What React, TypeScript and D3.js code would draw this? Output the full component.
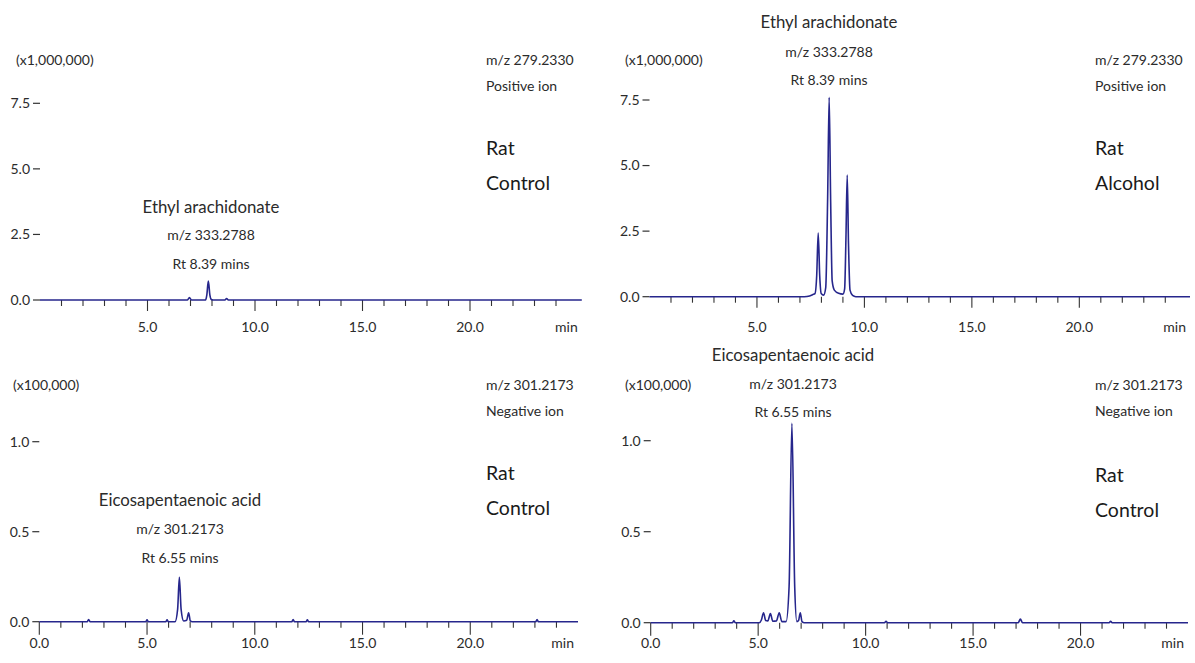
import React from "react";
import * as d3 from "d3";

// ---------- data (time in min, intensity in axis units) ----------
const tlTrace: [number, number][] = [
  [0, 0], [6.85, 0], [6.95, 0.09], [7.05, 0], [7.7, 0], [7.76, 0.2], [7.83, 0.72], [7.9, 0.2],
  [7.97, 0.02], [8.05, 0], [8.6, 0], [8.68, 0.06], [8.76, 0], [25.2, 0],
];
const trTrace: [number, number][] = [
  [0, 0], [7.2, 0], [7.45, 0.03], [7.6, 0.08], [7.7, 0.12], [7.78, 0.8], [7.85, 2.43], [7.92, 0.8],
  [7.99, 0.12], [8.1, 0.06], [8.2, 0.35], [8.29, 3.8], [8.36, 7.6], [8.43, 3.6], [8.5, 0.6],
  [8.6, 0.25], [8.8, 0.13], [9.0, 0.1], [9.08, 0.3], [9.14, 2.2], [9.2, 4.64], [9.26, 2.0],
  [9.33, 0.25], [9.45, 0.05], [9.6, 0], [25.15, 0],
];
const blTrace: [number, number][] = [
  [0, 0], [2.22, 0], [2.29, 0.012], [2.36, 0], [4.94, 0], [5.0, 0.01], [5.06, 0], [5.87, 0],
  [5.93, 0.01], [5.99, 0], [6.3, 0], [6.42, 0.07], [6.5, 0.247], [6.58, 0.07], [6.7, 0.004],
  [6.84, 0.008], [6.93, 0.05], [7.01, 0.004], [7.1, 0], [11.72, 0], [11.78, 0.012], [11.84, 0],
  [12.38, 0], [12.44, 0.01], [12.5, 0], [23.04, 0], [23.1, 0.012], [23.16, 0], [25.0, 0],
];
const brTrace: [number, number][] = [
  [0, 0], [3.8, 0], [3.87, 0.01], [3.94, 0], [5.05, 0], [5.15, 0.015], [5.25, 0.055], [5.35, 0.012],
  [5.45, 0.01], [5.57, 0.05], [5.68, 0.008], [5.85, 0.01], [5.98, 0.055], [6.1, 0.006],
  [6.3, 0.006], [6.44, 0.2], [6.57, 1.095], [6.7, 0.2], [6.8, 0.006], [6.88, 0.012],
  [6.96, 0.055], [7.04, 0.006], [7.15, 0], [10.88, 0], [10.95, 0.008], [11.02, 0], [17.1, 0],
  [17.2, 0.02], [17.3, 0], [21.33, 0], [21.4, 0.008], [21.47, 0], [25.0, 0],
];

const topYTicks = [0, 2.5, 5.0, 7.5];
const bottomYTicks = [0, 0.5, 1.0];
const topXLabels = [5, 10, 15, 20];
const bottomXLabels = [0, 5, 10, 15, 20];
const topMinor = d3.range(1, 25);
const bottomMinor = d3.range(0, 25);

const topScale = "(x1,000,000)";
const bottomScale = "(x100,000)";

// ---------- panel layout ----------
type Panel = {
  trace: [number, number][];
  x0: number; x1: number; xMax: number;
  y0: number; yTopPx: number; yTopVal: number;
  yTicks: number[]; xLabels: number[]; minor: number[];
  scaleText: string; scaleX: number; scaleY: number;
  mz: string; ion: string; infoX: number; infoY: number;
  rat: string; group: string; ratY: number;
  ann: string[]; annX: number; annY: number[];
  labelY: number; majorLen: number;
};

const FONT = "Lato, 'Open Sans', sans-serif";
const TEXT = "#2b2b2b";
const LINE = "#26268c";
const SMALL = 14;
const TITLE = 16.8;
const BIG = 19.5;

const panels: Panel[] = [
  {
    trace: tlTrace, x0: 40, x1: 581.8, xMax: 25.2, y0: 300, yTopPx: 103.3, yTopVal: 7.5,
    yTicks: topYTicks, xLabels: topXLabels, minor: topMinor,
    scaleText: topScale, scaleX: 16, scaleY: 60,
    mz: "m/z 279.2330", ion: "Positive ion", infoX: 486, infoY: 60,
    rat: "Rat", group: "Control", ratY: 148,
    ann: ["Ethyl arachidonate", "m/z 333.2788", "Rt 8.39  mins"], annX: 211, annY: [207, 235, 264],
    labelY: 327, majorLen: 11,
  },
  {
    trace: trTrace, x0: 649.5, x1: 1190, xMax: 25.15, y0: 296.7, yTopPx: 100, yTopVal: 7.5,
    yTicks: topYTicks, xLabels: topXLabels, minor: topMinor,
    scaleText: topScale, scaleX: 625, scaleY: 60,
    mz: "m/z 279.2330", ion: "Positive ion", infoX: 1095, infoY: 60,
    rat: "Rat", group: "Alcohol", ratY: 148,
    ann: ["Ethyl arachidonate", "m/z 333.2788", "Rt 8.39  mins"], annX: 829, annY: [22, 52, 80],
    labelY: 327, majorLen: 11,
  },
  {
    trace: blTrace, x0: 39.3, x1: 578, xMax: 25.0, y0: 621.7, yTopPx: 441.7, yTopVal: 1.0,
    yTicks: bottomYTicks, xLabels: bottomXLabels, minor: bottomMinor,
    scaleText: bottomScale, scaleX: 13, scaleY: 385,
    mz: "m/z 301.2173", ion: "Negative ion", infoX: 486, infoY: 385,
    rat: "Rat", group: "Control", ratY: 473,
    ann: ["Eicosapentaenoic acid", "m/z 301.2173", "Rt 6.55  mins"], annX: 180, annY: [500, 529, 558],
    labelY: 643, majorLen: 13,
  },
  {
    trace: brTrace, x0: 650.7, x1: 1188, xMax: 25.0, y0: 622.7, yTopPx: 440.7, yTopVal: 1.0,
    yTicks: bottomYTicks, xLabels: bottomXLabels, minor: bottomMinor,
    scaleText: bottomScale, scaleX: 625, scaleY: 385,
    mz: "m/z 301.2173", ion: "Negative ion", infoX: 1095, infoY: 385,
    rat: "Rat", group: "Control", ratY: 475,
    ann: ["Eicosapentaenoic acid", "m/z 301.2173", "Rt 6.55  mins"], annX: 793, annY: [355, 384, 412],
    labelY: 643, majorLen: 13,
  },
];

function Chromatogram({ p }: { p: Panel }) {
  const x = d3.scaleLinear().domain([0, p.xMax]).range([p.x0, p.x1]);
  const y = d3.scaleLinear().domain([0, p.yTopVal]).range([p.y0, p.yTopPx]);
  const line = d3
    .line<[number, number]>()
    .x((d) => x(d[0]))
    .y((d) => y(d[1]))
    .curve(d3.curveMonotoneX);
  const fmt = d3.format(".1f");
  return (
    <g fontFamily={FONT} fill={TEXT}>
      {/* y ticks */}
      {p.yTicks.map((t) => (
        <g key={"y" + t}>
          <line x1={p.x0 - 7} x2={p.x0} y1={y(t)} y2={y(t)} stroke="#333" strokeWidth={1.2} />
          <text x={p.x0 - 10} y={y(t)} dy="0.35em" textAnchor="end" fontSize={SMALL}>
            {fmt(t)}
          </text>
        </g>
      ))}
      {/* x ticks */}
      {p.minor.map((t) => {
        const major = t % 5 === 0;
        return (
          <line
            key={"m" + t}
            x1={x(t)} x2={x(t)} y1={p.y0} y2={p.y0 + (major ? p.majorLen : 6)}
            stroke="#333" strokeWidth={1.1}
          />
        );
      })}
      {p.xLabels.map((t) => (
        <text key={"xl" + t} x={x(t)} y={p.labelY} dy="0.35em" textAnchor="middle" fontSize={SMALL}>
          {fmt(t)}
        </text>
      ))}
      <text x={p.x1 - 4} y={p.labelY} dy="0.35em" textAnchor="end" fontSize={SMALL}>min</text>
      {/* trace */}
      <path d={line(p.trace) || ""} fill="none" stroke={LINE} strokeWidth={1.6} strokeLinejoin="round" />
      {/* texts */}
      <text x={p.scaleX} y={p.scaleY} dy="0.35em" fontSize={SMALL}>{p.scaleText}</text>
      <text x={p.infoX} y={p.infoY} dy="0.35em" fontSize={SMALL}>{p.mz}</text>
      <text x={p.infoX} y={p.infoY + 26} dy="0.35em" fontSize={SMALL}>{p.ion}</text>
      <text x={p.infoX} y={p.ratY} dy="0.35em" fontSize={BIG} fill="#1a1a1a">{p.rat}</text>
      <text x={p.infoX} y={p.ratY + 35} dy="0.35em" fontSize={BIG} fill="#1a1a1a">{p.group}</text>
      {p.ann.map((s, i) => (
        <text
          key={"a" + i}
          x={p.annX} y={p.annY[i]} dy="0.35em" textAnchor="middle"
          fontSize={i === 0 ? TITLE : SMALL}
        >
          {s}
        </text>
      ))}
    </g>
  );
}

export default function App() {
  return (
    <svg
      width={1195}
      height={663}
      viewBox="0 0 1195 663"
      style={{ position: "absolute", left: 0, top: 0, background: "#fff" }}
    >
      <rect width={1195} height={663} fill="#fff" />
      {panels.map((p, i) => (
        <Chromatogram key={i} p={p} />
      ))}
    </svg>
  );
}
